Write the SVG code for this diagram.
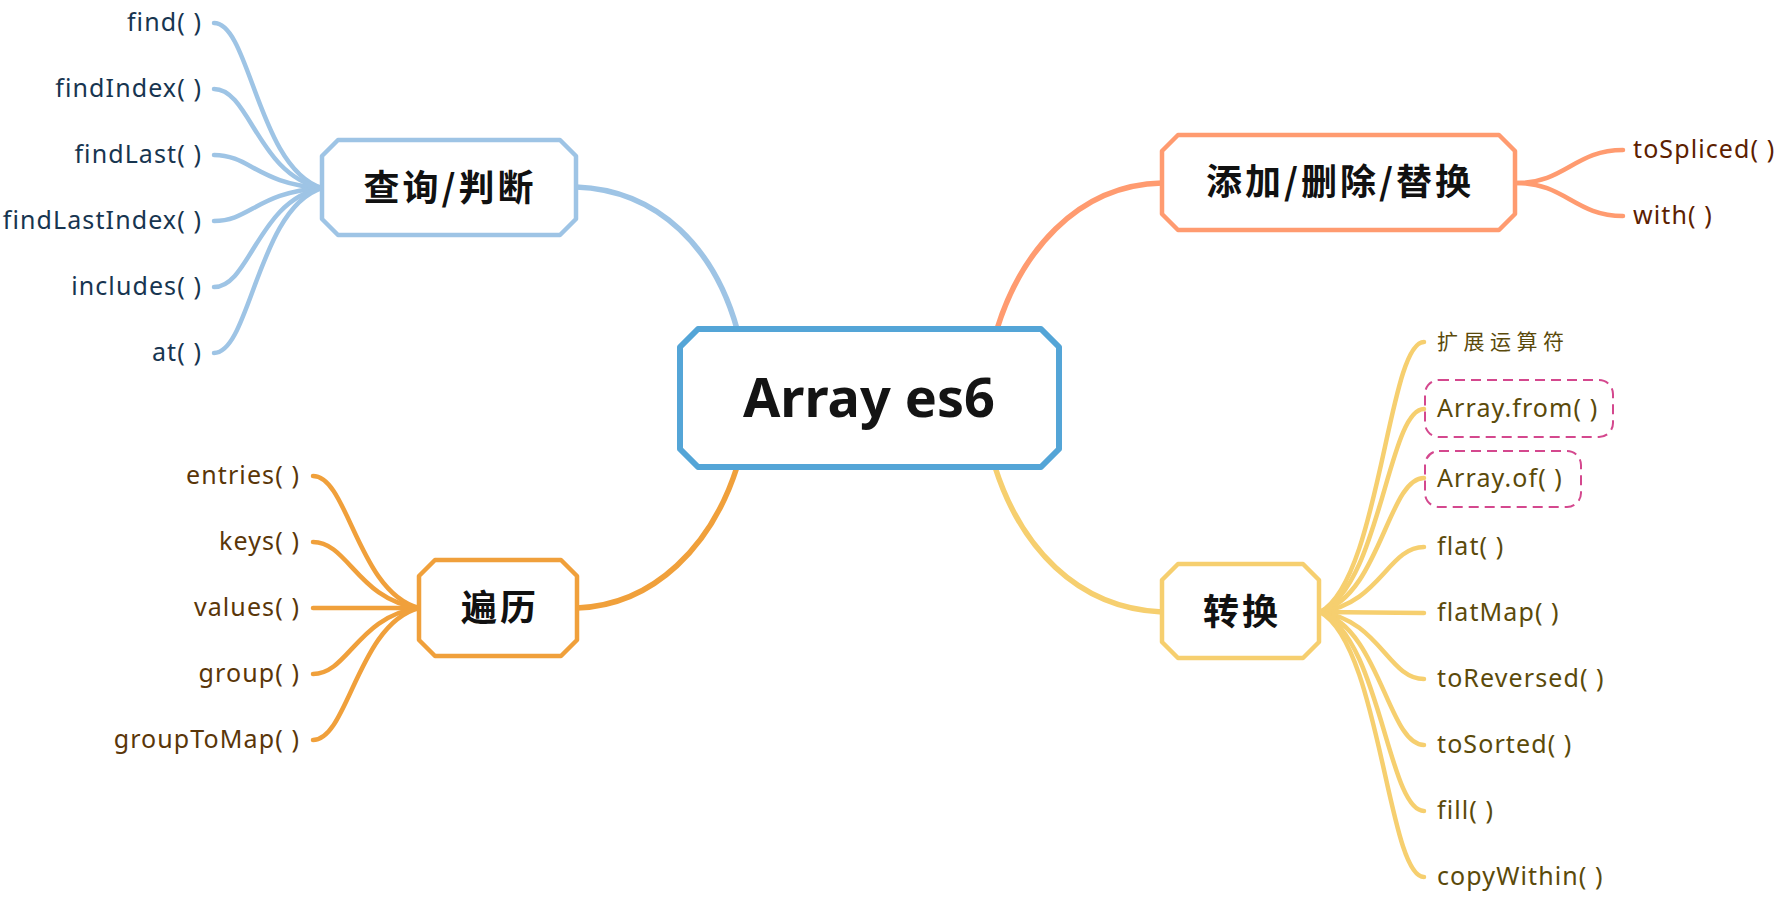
<svg xmlns="http://www.w3.org/2000/svg" width="1786" height="900" viewBox="0 0 1786 900">
<style>
.conn{fill:none;stroke-linecap:round;stroke-linejoin:round}
.blue{stroke:#9ec4e5}
.red{stroke:#ff9b70}
.orange{stroke:#f0a03b}
.yellow{stroke:#f6cf6f}
.main{stroke-width:5.5}
.leaf{stroke-width:4.5}
.box{fill:#ffffff;stroke-linejoin:round}
.title{font-family:"Noto Sans","Liberation Sans",sans-serif;font-weight:700;font-size:54px;fill:#141414}
.cjk{font-family:"Noto Sans CJK SC",sans-serif;font-weight:700;font-size:36px;fill:#111111;letter-spacing:3px}
.lt{font-family:"Noto Sans","Liberation Sans","Noto Sans CJK SC",sans-serif;font-size:25px;letter-spacing:1.1px}
.lcjk{font-family:"Noto Sans CJK SC",sans-serif;font-size:21px;letter-spacing:5.5px}
.tb{fill:#173550}
.tr{fill:#5c2000}
.to{fill:#5a3609}
.ty{fill:#5b4a0a}
.dash{fill:none;stroke:#d4488e;stroke-width:2;stroke-dasharray:10 6}
</style>
<rect width="1786" height="900" fill="#ffffff"/>
<g id="connectors">
  <path class="conn blue main" d="M576,187 C660,190 715,250 737,329"/>
  <path class="conn red main" d="M997,329 C1020,255 1075,185 1162,183"/>
  <path class="conn orange main" d="M737,467 C712,545 655,605 577,608"/>
  <path class="conn yellow main" d="M995,467 C1020,545 1075,608 1162,612"/>
  <path class="conn blue leaf" d="M214,23 C250,23 258,168 322,188"/>
  <path class="conn blue leaf" d="M214,89 C250,89 258,176 322,188"/>
  <path class="conn blue leaf" d="M214,155 C250,155 258,184 322,188"/>
  <path class="conn blue leaf" d="M214,221 C250,221 258,192 322,188"/>
  <path class="conn blue leaf" d="M214,287 C250,287 258,200 322,188"/>
  <path class="conn blue leaf" d="M214,353 C250,353 258,208 322,188"/>
  <path class="conn red leaf" d="M1517,183 C1565,183 1575,150 1623,150"/>
  <path class="conn red leaf" d="M1517,183 C1565,183 1575,216 1623,216"/>
  <path class="conn orange leaf" d="M313,476 C348,476 358,592 419,608"/>
  <path class="conn orange leaf" d="M313,542 C348,542 358,600 419,608"/>
  <path class="conn orange leaf" d="M313,608 L419,608"/>
  <path class="conn orange leaf" d="M313,674 C348,674 358,616 419,608"/>
  <path class="conn orange leaf" d="M313,740 C348,740 358,624 419,608"/>
  <path class="conn yellow leaf" d="M1424,342 C1388,342 1380,580 1320,612"/>
  <path class="conn yellow leaf" d="M1424,409 C1388,409 1380,588 1320,612"/>
  <path class="conn yellow leaf" d="M1424,478 C1388,478 1380,596 1320,612"/>
  <path class="conn yellow leaf" d="M1424,547 C1388,547 1380,604 1320,612"/>
  <path class="conn yellow leaf" d="M1424,613 L1320,612"/>
  <path class="conn yellow leaf" d="M1424,679 C1388,679 1380,620 1320,612"/>
  <path class="conn yellow leaf" d="M1424,745 C1388,745 1380,628 1320,612"/>
  <path class="conn yellow leaf" d="M1424,811 C1388,811 1380,636 1320,612"/>
  <path class="conn yellow leaf" d="M1424,877 C1388,877 1380,644 1320,612"/>
</g>
<g id="root">
  <path class="box" stroke="#54a5d7" stroke-width="6" d="M698,329 L1041,329 L1059,347 L1059,449 L1041,467 L698,467 L680,449 L680,347 Z"/>
  <text class="title" x="869" y="417" text-anchor="middle">Array es6</text>
</g>
<g id="query">
  <path class="box" stroke="#9ec4e5" stroke-width="4.5" d="M338,140 L560,140 L576,156 L576,219 L560,235 L338,235 L322,219 L322,156 Z"/>
  <text class="cjk" x="450" y="201" text-anchor="middle">查询/判断</text>
</g>
<g id="modify">
  <path class="box" stroke="#ff9b70" stroke-width="4.5" d="M1178,135 L1499,135 L1515,151 L1515,214 L1499,230 L1178,230 L1162,214 L1162,151 Z"/>
  <text class="cjk" x="1340" y="195" text-anchor="middle">添加/删除/替换</text>
</g>
<g id="iterate">
  <path class="box" stroke="#f0a03b" stroke-width="4.5" d="M435,560 L561,560 L577,576 L577,640 L561,656 L435,656 L419,640 L419,576 Z"/>
  <text class="cjk" x="500" y="621" text-anchor="middle">遍历</text>
</g>
<g id="convert">
  <path class="box" stroke="#f6cf6f" stroke-width="4.5" d="M1178,564 L1303,564 L1319,580 L1319,642 L1303,658 L1178,658 L1162,642 L1162,580 Z"/>
  <text class="cjk" x="1242" y="625" text-anchor="middle">转换</text>
</g>
<g id="leaf-find"><text class="lt tb" x="202" y="31" text-anchor="end">find( )</text></g>
<g id="leaf-findIndex"><text class="lt tb" x="202" y="97" text-anchor="end">findIndex( )</text></g>
<g id="leaf-findLast"><text class="lt tb" x="202" y="163" text-anchor="end">findLast( )</text></g>
<g id="leaf-findLastIndex"><text class="lt tb" x="202" y="229" text-anchor="end">findLastIndex( )</text></g>
<g id="leaf-includes"><text class="lt tb" x="202" y="295" text-anchor="end">includes( )</text></g>
<g id="leaf-at"><text class="lt tb" x="202" y="361" text-anchor="end">at( )</text></g>
<g id="leaf-toSpliced"><text class="lt tr" x="1633" y="158">toSpliced( )</text></g>
<g id="leaf-with"><text class="lt tr" x="1633" y="224">with( )</text></g>
<g id="leaf-entries"><text class="lt to" x="300" y="484" text-anchor="end">entries( )</text></g>
<g id="leaf-keys"><text class="lt to" x="300" y="550" text-anchor="end">keys( )</text></g>
<g id="leaf-values"><text class="lt to" x="300" y="616" text-anchor="end">values( )</text></g>
<g id="leaf-group"><text class="lt to" x="300" y="682" text-anchor="end">group( )</text></g>
<g id="leaf-groupToMap"><text class="lt to" x="300" y="748" text-anchor="end">groupToMap( )</text></g>
<g id="leaf-spread"><text class="lcjk ty" x="1437" y="349">扩展运算符</text></g>
<g id="leaf-arrayFrom">
  <rect class="dash" x="1425" y="380" width="188" height="57" rx="14"/>
  <text class="lt ty" x="1437" y="417">Array.from( )</text>
</g>
<g id="leaf-arrayOf">
  <rect class="dash" x="1425" y="451" width="156" height="56" rx="14"/>
  <text class="lt ty" x="1437" y="487">Array.of( )</text>
</g>
<g id="leaf-flat"><text class="lt ty" x="1437" y="555">flat( )</text></g>
<g id="leaf-flatMap"><text class="lt ty" x="1437" y="621">flatMap( )</text></g>
<g id="leaf-toReversed"><text class="lt ty" x="1437" y="687">toReversed( )</text></g>
<g id="leaf-toSorted"><text class="lt ty" x="1437" y="753">toSorted( )</text></g>
<g id="leaf-fill"><text class="lt ty" x="1437" y="819">fill( )</text></g>
<g id="leaf-copyWithin"><text class="lt ty" x="1437" y="885">copyWithin( )</text></g>
</svg>
